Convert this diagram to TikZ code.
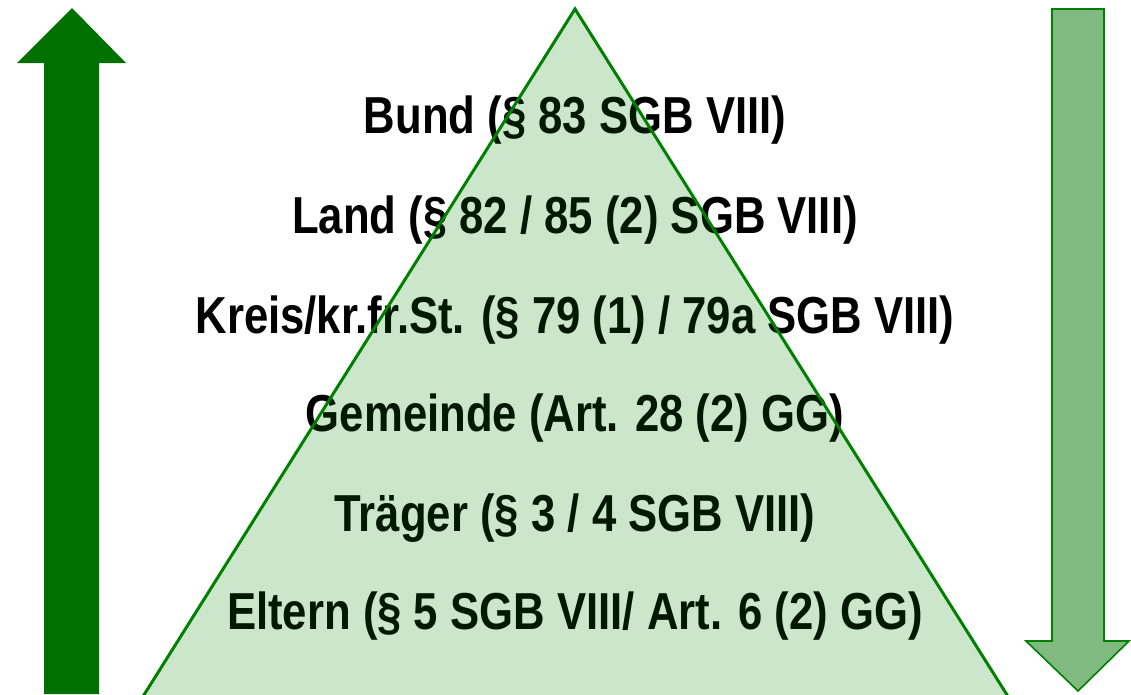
\documentclass[tikz,border=0pt]{standalone}
\usepackage{fontspec}
\setmainfont{Liberation Sans}[FakeStretch=0.84]
\usetikzlibrary{positioning}
\definecolor{darkarrow}{RGB}{0,112,0}
\definecolor{lightarrow}{RGB}{128,186,128}
\definecolor{edgegreen}{RGB}{0,128,0}

\begin{document}
\begin{tikzpicture}[x=1pt,y=-1pt]
  % Parameters
  \def\W{1131}   % picture width
  \def\H{694}    % picture height
  \def\cx{575}   % centre of pyramid

  % Styles
  \tikzset{
    level/.style={font=\fontsize{52}{52}\selectfont\bfseries,inner sep=0pt,anchor=center},
    pyramid/.style={fill=edgegreen,fill opacity=0.2,draw=edgegreen,line width=3pt,line join=miter},
    uparrow/.style={fill=darkarrow},
    downarrow/.style={fill=lightarrow,draw=edgegreen,line width=1.6pt}
  }

  \useasboundingbox (0,0) rectangle (\W,\H);

  % Left arrow (up)
  \fill[uparrow] (72,8) -- (126,63) -- (99,63) -- (99,\H) -- (44,\H) -- (44,63) -- (17,63) -- cycle;

  % Right arrow (down)
  \draw[downarrow] (1052,9) -- (1104,9) -- (1104,641) -- (1129,641) -- (1078,691)
    -- (1026,641) -- (1052,641) -- cycle;

  % Levels
  \node[level] (bund)     at (\cx,120) {Bund (§ 83 SGB VIII)};
  \node[level] (land)     at (\cx,220) {Land (§ 82 / 85 (2) SGB VIII)};
  \node[level] (kreis)    at (\cx,320) {Kreis/kr.fr.St. (§ 79 (1) / 79a SGB VIII)};
  \node[level] (gemeinde) at (\cx,418) {Gemeinde (Art. 28 (2) GG)};
  \node[level] (traeger)  at (\cx,518) {Träger (§ 3 / 4 SGB VIII)};
  \node[level] (eltern)   at (\cx,616) {Eltern (§ 5 SGB VIII/ Art. 6 (2) GG)};

  % Pyramid over the text
  \path[pyramid] (\cx,9) -- (1009,\H+4) -- (142,\H+4) -- cycle;
\end{tikzpicture}
\end{document}
